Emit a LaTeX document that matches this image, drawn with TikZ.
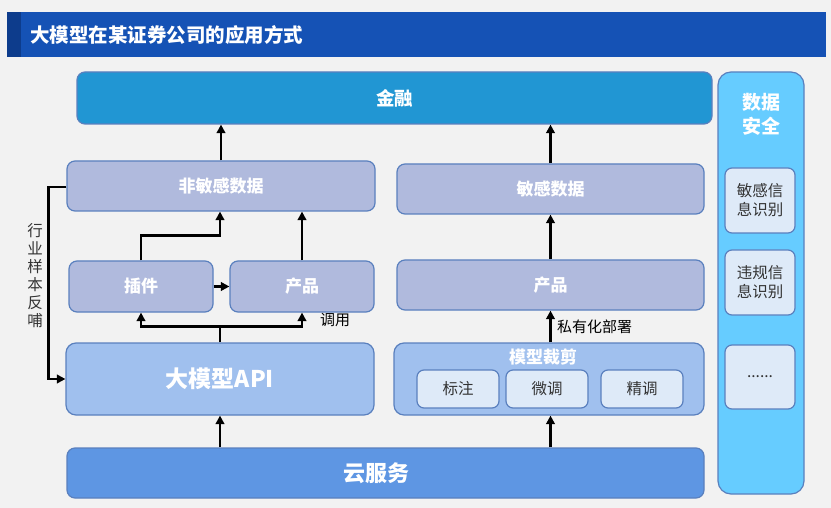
\documentclass[tikz,border=0pt]{standalone}
\usepackage{fontspec}
\setmainfont{Noto Sans CJK SC}
\usetikzlibrary{arrows.meta}
\definecolor{bgc}{HTML}{F2F2F2}
\definecolor{titlec}{HTML}{1552B5}
\definecolor{titledk}{HTML}{0D3C8C}
\definecolor{edgec}{HTML}{5A80BE}
\definecolor{finc}{HTML}{2196D3}
\definecolor{nsc}{HTML}{B0BADD}
\definecolor{apic}{HTML}{A0C0EE}
\definecolor{cloudc}{HTML}{5E96E3}
\definecolor{secc}{HTML}{66CCFF}
\definecolor{subc}{HTML}{DEEAF8}
\definecolor{txtc}{HTML}{333333}
\tikzset{
  box/.style={draw=edgec, line width=1.2pt, rounded corners=8pt, text=white, font=\bfseries\fontsize{17}{20}\selectfont, inner sep=0pt},
  subbox/.style={draw=edgec, line width=1.2pt, rounded corners=7pt, fill=subc, text=txtc, font=\fontsize{15.5}{19}\selectfont, inner sep=0pt, align=center},
  arr/.style={line width=2.4pt, -{Triangle[length=8.5pt,width=8.5pt]}},
  plain/.style={line width=2.4pt},
  lab/.style={font=\fontsize{15}{18}\selectfont, text=black, inner sep=0pt}
}
\begin{document}
\begin{tikzpicture}[x=1pt,y=-1pt]
\useasboundingbox (0,0) rectangle (831,508);
\fill[bgc] (0,0) rectangle (831,508);
% title
\fill[titlec] (7,12) rectangle (826,57);
\fill[titledk] (7,12) rectangle (21,57);
\node[anchor=west, text=white, font=\bfseries\fontsize{19.5}{22}\selectfont, inner sep=0pt] (title) at (30,35) {大模型在某证券公司的应用方式};
% boxes
\node[box, fill=finc, minimum width=635pt, minimum height=52pt, font=\bfseries\fontsize{18.5}{22}\selectfont] (fin) at (394.5,98) {金融};
\node[box, fill=secc, minimum width=86pt, minimum height=422pt, rounded corners=13pt] (sec) at (761,283) {};
\node[text=white, font=\bfseries\fontsize{19}{24}\selectfont, align=center, inner sep=0pt] (sect) at (761,114) {数据\\安全};
\node[subbox, minimum width=70pt, minimum height=65pt] (s1) at (760,200.5) {敏感信\\息识别};
\node[subbox, minimum width=70pt, minimum height=65pt] (s2) at (760,282.5) {违规信\\息识别};
\node[subbox, minimum width=70pt, minimum height=64pt] (s3) at (760,377) {......};
\node[box, fill=nsc, minimum width=308pt, minimum height=50pt] (ns) at (221,186) {非敏感数据};
\node[box, fill=nsc, minimum width=307pt, minimum height=50pt] (sd) at (550.5,189) {敏感数据};
\node[box, fill=nsc, minimum width=144pt, minimum height=51pt] (plug) at (141,286.5) {插件};
\node[box, fill=nsc, minimum width=144pt, minimum height=51pt] (prodL) at (302,286.5) {产品};
\node[box, fill=nsc, minimum width=307pt, minimum height=50pt] (prodR) at (550.5,285) {产品};
\node[box, fill=apic, minimum width=308pt, minimum height=72pt, rounded corners=10pt, font=\bfseries\fontsize{23}{26}\selectfont] (api) at (220,379) {大模型API};
\node[box, fill=apic, minimum width=310pt, minimum height=72pt, rounded corners=10pt] (cut) at (549,379) {};
\node[text=white, font=\bfseries\fontsize{17}{20}\selectfont, inner sep=0pt] (cutt) at (543,357) {模型裁剪};
\node[subbox, minimum width=82pt, minimum height=38pt] (t1) at (458,389) {标注};
\node[subbox, minimum width=82pt, minimum height=38pt] (t2) at (547,389) {微调};
\node[subbox, minimum width=82pt, minimum height=38pt] (t3) at (642,389) {精调};
\node[box, fill=cloudc, minimum width=637pt, minimum height=50pt, font=\bfseries\fontsize{22}{26}\selectfont] (cloud) at (385.5,473) {\hspace*{-18pt}云服务};
% arrows right column
\draw[arr] (ns.north) -- (fin.south -| ns.north);
\draw[arr] (sd.north) -- (fin.south -| sd.north);
\draw[arr] (prodR.north) -- (sd.south);
\draw[arr] (cut.north -| prodR.south) -- (prodR.south);
\draw[arr] (cloud.north -| prodR.south) -- (cut.south -| prodR.south);
\node[lab, anchor=west] (priv) at (557,327) {私有化部署};
% arrows left column
\draw[arr] (cloud.north -| api.south) -- (api.south);
\draw[plain] (api.north) -- ++(0,-16) coordinate (j);
\draw[arr] ([xshift=1.2pt]j) -| (plug.south);
\draw[arr] ([xshift=-1.2pt]j) -| (prodL.south);
\node[lab] (call) at (335,320) {调用};
\draw[arr] (plug.east) -- (prodL.west);
\draw[arr] (plug.north) -- ++(0,-25) -| ([xshift=-1pt]ns.south);
\draw[arr] (prodL.north) -- (prodL.north |- ns.south);
\draw[arr] ([yshift=-1pt]ns.west) -- ++(-18,0) |- (api.west);
\node[lab, align=center, font=\fontsize{15.5}{18}\selectfont, text=txtc] (fb) at (35,276) {行\\业\\样\\本\\反\\哺};
\end{tikzpicture}
\end{document}
